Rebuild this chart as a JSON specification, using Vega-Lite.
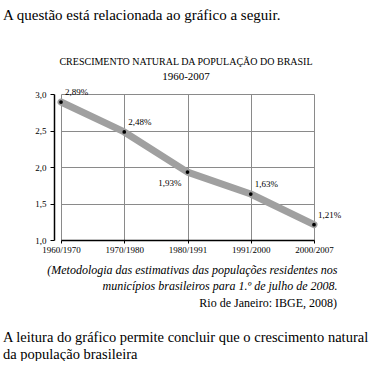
{
  "$schema": "https://vega.github.io/schema/vega-lite/v6.json",
  "padding": {"left": 3, "top": 8, "right": 0, "bottom": 0},
  "background": "white",
  "bounds": "flush",
  "config": {"font": "Liberation Serif", "view": {"stroke": null}, "concat": {"spacing": 0}},
  "title": {"text": "A questão está relacionada ao gráfico a seguir.", "anchor": "start", "frame": "group", "align": "left", "dx": -51, "fontSize": 15, "fontWeight": "normal", "font": "Liberation Serif", "color": "black", "offset": 34},
  "datasets": {
    "taxa": [
      {"periodo": "1960/1970", "taxa": 2.89, "rotulo": "2,89%"},
      {"periodo": "1970/1980", "taxa": 2.48, "rotulo": "2,48%"},
      {"periodo": "1980/1991", "taxa": 1.93, "rotulo": "1,93%"},
      {"periodo": "1991/2000", "taxa": 1.63, "rotulo": "1,63%"},
      {"periodo": "2000/2007", "taxa": 1.21, "rotulo": "1,21%"}
    ]
  },
  "vconcat": [
    {
      "bounds": "flush",
      "title": {"text": ["A leitura do gráfico permite concluir que o crescimento natural", "da população brasileira"], "orient": "bottom", "anchor": "start", "frame": "group", "align": "left", "dx": -51, "fontSize": 14.5, "fontWeight": "normal", "font": "Liberation Serif", "lineHeight": 17, "offset": 22, "color": "black"},
      "vconcat": [
        {
          "bounds": "flush",
          "title": {"text": "Rio de Janeiro: IBGE, 2008)", "orient": "bottom", "anchor": "start", "frame": "group", "align": "right", "dx": 283, "fontSize": 12, "fontWeight": "normal", "font": "Liberation Serif", "offset": 6, "color": "black"},
          "vconcat": [
            {
              "width": 260,
              "height": 146,
              "title": {"text": "CRESCIMENTO NATURAL DA POPULAÇÃO DO BRASIL", "subtitle": "1960-2007", "anchor": "middle", "frame": "group", "dx": 2, "font": "Liberation Serif", "subtitleFont": "Liberation Serif", "fontSize": 10, "fontWeight": "normal", "color": "black", "subtitleFontSize": 11, "subtitleColor": "black", "subtitlePadding": 4, "offset": 6},
              "data": {"name": "taxa"},
              "encoding": {
                "x": {
                  "field": "periodo", "type": "ordinal", "sort": null,
                  "scale": {"type": "point", "range": [7, 260], "padding": 0},
                  "axis": {
                    "labelAngle": 0, "grid": true, "gridColor": "#8a8a8a", "gridWidth": 1,
                    "tickSize": 3, "tickColor": "black", "domainColor": "black", "domainWidth": 1.5,
                    "labelFont": "Liberation Serif", "labelFontSize": 9, "labelColor": "black", "labelPadding": 2,
                    "title": ["(Metodologia das estimativas das populações residentes nos", "municípios brasileiros para 1.º de julho de 2008."],
                    "titleFont": "Liberation Serif",
                    "titleFontStyle": "italic", "titleFontWeight": "normal", "titleFontSize": 12, "titleColor": "black",
                    "titleAlign": "right", "titleX": 283, "titleY": 33, "titleBaseline": "alphabetic", "titleLineHeight": 16.5
                  }
                },
                "y": {
                  "field": "taxa", "type": "quantitative",
                  "scale": {"domain": [1, 3], "nice": false, "zero": false},
                  "axis": {
                    "values": [1, 1.5, 2, 2.5, 3], "labelExpr": "replace(format(datum.value, '.1f'), '.', ',')",
                    "title": null, "grid": true, "gridColor": "#8a8a8a", "gridWidth": 1,
                    "domainColor": "black", "domainWidth": 1.5, "tickColor": "black", "tickSize": 4,
                    "labelFont": "Liberation Serif", "labelFontSize": 9, "labelColor": "black", "labelPadding": 4
                  }
                }
              },
              "layer": [
                {"mark": {"type": "line", "color": "#a0a0a0", "strokeWidth": 7, "strokeCap": "round", "strokeJoin": "round"}},
                {"mark": {"type": "point", "filled": true, "color": "black", "size": 14, "opacity": 1}},
                {
                  "transform": [{"filter": "datum.periodo != '1980/1991'"}],
                  "mark": {"type": "text", "align": "left", "baseline": "alphabetic", "dx": 4, "dy": -7, "fontSize": 9, "font": "Liberation Serif", "color": "black"},
                  "encoding": {"text": {"field": "rotulo"}}
                },
                {
                  "transform": [{"filter": "datum.periodo == '1980/1991'"}],
                  "mark": {"type": "text", "align": "right", "baseline": "alphabetic", "dx": -6, "dy": 14, "fontSize": 9, "font": "Liberation Serif", "color": "black"},
                  "encoding": {"text": {"field": "rotulo"}}
                }
              ]
            }
          ]
        }
      ]
    }
  ]
}
